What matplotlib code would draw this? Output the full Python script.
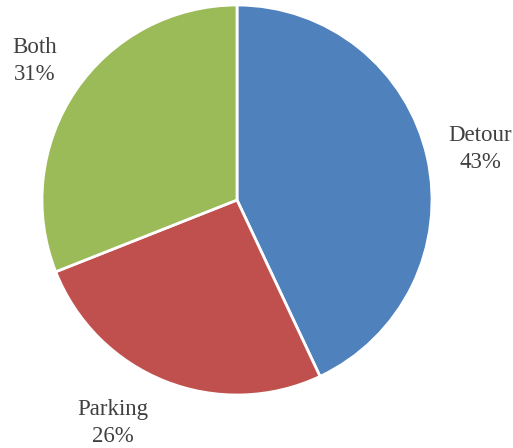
import matplotlib.pyplot as plt

labels = ['Detour', 'Parking', 'Both']
shares = [43, 26, 31]
colors = ['#4F81BD', '#C0504D', '#9BBB59']

fig = plt.figure(figsize=(5.13, 4.48), dpi=100)
ax = fig.add_axes([0, 0, 1, 1])
ax.set_xlim(0, 513)
ax.set_ylim(0, 448)

wedges, _ = ax.pie(shares, colors=colors, startangle=90, counterclock=False,
                   center=(237, 248), radius=195, frame=True,
                   wedgeprops=dict(edgecolor='white', linewidth=2))
ax.set_aspect('equal')
ax.axis('off')

# label positions in pixel coordinates (y measured from bottom)
label_pos = [(480, 299), (113, 25), (35, 387)]
for lab, val, (x, y) in zip(labels, shares, label_pos):
    ax.text(x, y, lab + '\n' + str(val) + '%', ha='center', va='center',
            fontsize=16.5, family=['Liberation Serif', 'serif'],
            color='#404040', linespacing=1.35)

plt.savefig('out.png', dpi=100)
